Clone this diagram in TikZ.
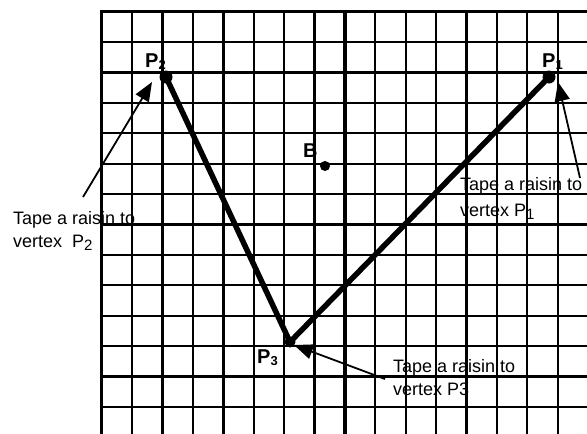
\documentclass[tikz,border=0pt]{standalone}
\usepackage{fontspec}
\setmainfont{Liberation Sans}
\usetikzlibrary{arrows.meta}
\newcommand\subd[1]{\raisebox{-2pt}{\fontsize{13}{13}\selectfont #1}}
\newcommand\subn[1]{\raisebox{-3pt}{\fontsize{15}{15}\selectfont #1}}
\tikzset{
  gridthin/.style={line width=2.1pt},
  gridthick/.style={line width=3.5pt},
  side/.style={line width=5.5pt, line cap=round},
  vdot/.style={fill=black},
  ptlabel/.style={font=\fontsize{20}{20}\selectfont\bfseries, inner sep=0pt, anchor=base west},
  note/.style={font=\fontsize{18}{22}\selectfont, inner sep=0pt, anchor=base west, align=left},
  pointer/.style={line width=1.8pt, -{Triangle[length=19pt,width=15pt]}},
}
\begin{document}
\begin{tikzpicture}[x=1pt,y=-1pt]
\useasboundingbox (0,0) rectangle (587,434);
\fill[white] (0,0) rectangle (587,434);
% grid
\foreach \k in {0,...,15} {
  \draw[gridthin] ({101.7+30.4*\k},11.7) -- ({101.7+30.4*\k},434);
}
\foreach \k in {0,...,13} {
  \draw[gridthin] (101.7,{11.7+30.4*\k}) -- (587,{11.7+30.4*\k});
}
\draw[gridthick] (101.7,10) -- (101.7,434);
\draw[gridthick] (344.9,11.7) -- (344.9,434);
\draw[line width=2.7pt] (223.3,11.7) -- (223.3,434);
\draw[gridthick] (100,11.7) -- (587,11.7);
\draw[gridthick] (101.7,72.5) -- (587,72.5);
\draw[gridthick] (101.7,224.5) -- (587,224.5);
% vertices
\coordinate (P2) at (166,77);
\coordinate (P1) at (549,77);
\coordinate (P3) at (290,342);
\coordinate (B) at (325,166);
\draw[side] (P2) -- (P3) -- (P1);
\fill[vdot] (P2) circle (6.5);
\fill[vdot] (P1) circle (6.5);
\fill[vdot] (P3) circle (5.5);
\fill[vdot] (B) circle (5);
% labels
\node[ptlabel] (lP2) at (145,67) {P\subd{2}};
\node[ptlabel] (lP1) at (542,67) {P\subd{1}};
\node[ptlabel] (lP3) at (257,363) {P\subd{3}};
\node[ptlabel] (lB) at (303,157) {B};
% notes
\node[note] (n2a) at (13,224) {Tape a raisin to};
\node[note] (n2b) at (13,247) {vertex\ \ P\subn{2}};
\node[note] (n1a) at (460,190) {Tape a raisin to};
\node[note] (n1b) at (460,216) {vertex P\subn{1}};
\node[note] (n3a) at (393,372) {Tape a raisin to};
\node[note] (n3b) at (393,395) {vertex P3};
% pointers
\coordinate (s2) at (83,197);
\coordinate (t2) at (152,82);
\coordinate (s1) at (580,178);
\coordinate (t1) at (558,82);
\coordinate (s3) at (385,379);
\coordinate (t3) at (294,345);
\draw[pointer] (s2) -- (t2);
\draw[pointer] (s1) -- (t1);
\draw[pointer] (s3) -- (t3);
\end{tikzpicture}
\end{document}
